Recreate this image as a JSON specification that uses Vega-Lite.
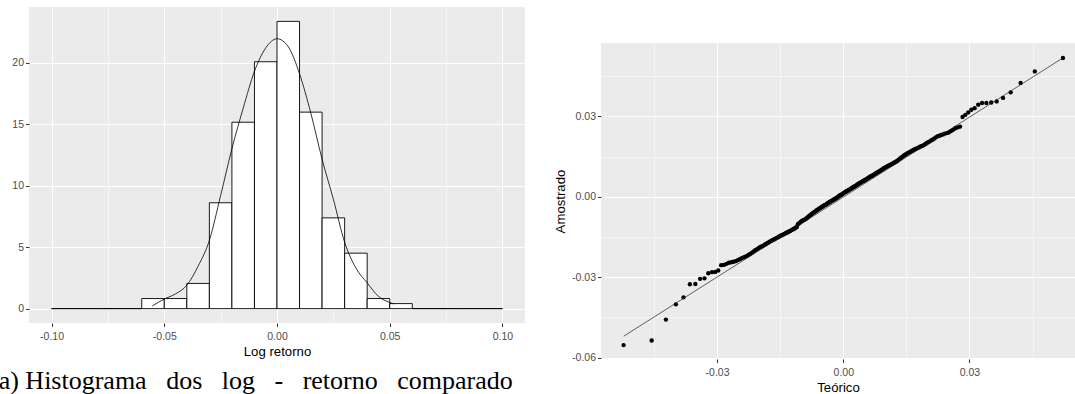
{
  "$schema": "https://vega.github.io/schema/vega-lite/v6.json",
  "autosize": {"type": "none"},
  "padding": {"left": 29, "top": 7, "right": 1046, "bottom": 387},
  "background": "white",
  "spacing": 76,
  "bounds": "flush",
  "config": {
    "view": {"fill": "#EBEBEB", "stroke": null},
    "axis": {
      "domain": false,
      "tickColor": "#333333",
      "tickSize": 3.5,
      "labelColor": "#4D4D4D",
      "labelFont": "Liberation Sans",
      "labelFontSize": 10.5,
      "labelPadding": 2.5,
      "labelOverlap": false,
      "labelFlush": false,
      "titleFont": "Liberation Sans",
      "titleFontSize": 13.2,
      "titleFontWeight": "normal",
      "titleColor": "#000000",
      "gridColor": "#FFFFFF"
    }
  },
  "hconcat": [
    {
      "width": 496,
      "height": 316,
      "title": {
        "text": "(a) Histograma\u2002 dos\u2002 log\u2002 -\u2002 retorno\u2002 comparado",
        "orient": "bottom",
        "anchor": "start",
        "frame": "group",
        "dx": -39,
        "offset": 11,
        "font": "Liberation Serif",
        "fontSize": 26,
        "fontWeight": "normal",
        "color": "#000000",
        "baseline": "top"
      },
      "layer": [
        {
          "data": {"values": [
            {"bin_start": -0.10, "bin_end": -0.09, "density": 0},
            {"bin_start": -0.09, "bin_end": -0.08, "density": 0},
            {"bin_start": -0.08, "bin_end": -0.07, "density": 0},
            {"bin_start": -0.07, "bin_end": -0.06, "density": 0},
            {"bin_start": -0.06, "bin_end": -0.05, "density": 0.82},
            {"bin_start": -0.05, "bin_end": -0.04, "density": 0.82},
            {"bin_start": -0.04, "bin_end": -0.03, "density": 2.05},
            {"bin_start": -0.03, "bin_end": -0.02, "density": 8.61},
            {"bin_start": -0.02, "bin_end": -0.01, "density": 15.16},
            {"bin_start": -0.01, "bin_end": 0.00, "density": 20.08},
            {"bin_start": 0.00, "bin_end": 0.01, "density": 23.36},
            {"bin_start": 0.01, "bin_end": 0.02, "density": 15.98},
            {"bin_start": 0.02, "bin_end": 0.03, "density": 7.38},
            {"bin_start": 0.03, "bin_end": 0.04, "density": 4.51},
            {"bin_start": 0.04, "bin_end": 0.05, "density": 0.82},
            {"bin_start": 0.05, "bin_end": 0.06, "density": 0.41},
            {"bin_start": 0.06, "bin_end": 0.07, "density": 0},
            {"bin_start": 0.07, "bin_end": 0.08, "density": 0},
            {"bin_start": 0.08, "bin_end": 0.09, "density": 0},
            {"bin_start": 0.09, "bin_end": 0.10, "density": 0}
          ]},
          "mark": {"type": "rect", "fill": "#FFFFFF", "stroke": "#000000", "strokeWidth": 0.9},
          "encoding": {
            "x": {
              "field": "bin_start", "type": "quantitative", "title": "Log retorno",
              "scale": {"domain": [-0.11, 0.11], "nice": false, "zero": false},
              "axis": {
                "values": [-0.1, -0.075, -0.05, -0.025, 0, 0.025, 0.05, 0.075, 0.1],
                "labelPadding": 5,
                "titlePadding": 3,
                "labelExpr": "abs(datum.value*20 - round(datum.value*20)) < 0.000001 ? replace(format(datum.value, '.2f'), '\u2212', '-') : ''",
                "tickOpacity": {"condition": {"test": "abs(datum.value*20 - round(datum.value*20)) < 0.000001", "value": 1}, "value": 0},
                "gridWidth": {"condition": {"test": "abs(datum.value*20 - round(datum.value*20)) < 0.000001", "value": 1.07}, "value": 0.53}
              }
            },
            "x2": {"field": "bin_end"},
            "y": {
              "field": "density", "type": "quantitative", "title": null,
              "scale": {"domain": [-1.168, 24.53], "nice": false, "zero": false},
              "axis": {
                "values": [0, 2.5, 5, 7.5, 10, 12.5, 15, 17.5, 20, 22.5],
                "labelPadding": 2,
                "labelExpr": "datum.value % 5 === 0 ? format(datum.value, 'd') : ''",
                "tickOpacity": {"condition": {"test": "datum.value % 5 === 0", "value": 1}, "value": 0},
                "gridWidth": {"condition": {"test": "datum.value % 5 === 0", "value": 1.07}, "value": 0.53}
              }
            },
            "y2": {"datum": 0}
          }
        },
        {
          "data": {"values": [
            {"x": -0.0553, "density": 0.22},
            {"x": -0.05, "density": 0.78},
            {"x": -0.045, "density": 1.2},
            {"x": -0.04, "density": 1.9},
            {"x": -0.035, "density": 3.45},
            {"x": -0.03, "density": 5.55},
            {"x": -0.025, "density": 9.2},
            {"x": -0.02, "density": 13.0},
            {"x": -0.015, "density": 16.3},
            {"x": -0.01, "density": 19.3},
            {"x": -0.005, "density": 21.2},
            {"x": 0.0, "density": 21.95},
            {"x": 0.005, "density": 21.3},
            {"x": 0.01, "density": 19.1},
            {"x": 0.015, "density": 15.9},
            {"x": 0.02, "density": 12.15},
            {"x": 0.025, "density": 8.9},
            {"x": 0.03, "density": 5.4},
            {"x": 0.035, "density": 3.3},
            {"x": 0.04, "density": 2.1},
            {"x": 0.045, "density": 1.0},
            {"x": 0.05, "density": 0.5},
            {"x": 0.0518, "density": 0.38}
          ]},
          "mark": {"type": "line", "color": "#000000", "strokeWidth": 0.8, "interpolate": "monotone"},
          "encoding": {
            "x": {"field": "x", "type": "quantitative", "title": "Log retorno"},
            "y": {"field": "density", "type": "quantitative", "title": null}
          }
        }
      ]
    },
    {
      "spacing": 0,
      "bounds": "flush",
      "vconcat": [
        {
          "width": 474,
          "height": 36,
          "view": {"fill": null, "stroke": null},
          "data": {"values": [{"s": 0}]},
          "mark": {"type": "point", "opacity": 0},
          "encoding": {}
        },
        {
          "width": 474,
          "height": 316,
          "layer": [
            {
              "data": {"values": [
{"teorico":-0.05223,"amostrado":-0.0553},{"teorico":-0.04555,"amostrado":-0.0536},{"teorico":-0.04217,"amostrado":-0.0458},{"teorico":-0.0398,"amostrado":-0.0401},{"teorico":-0.03798,"amostrado":-0.0375},{"teorico":-0.03647,"amostrado":-0.0326},{"teorico":-0.03518,"amostrado":-0.0325},{"teorico":-0.03403,"amostrado":-0.0306},{"teorico":-0.033,"amostrado":-0.0304},{"teorico":-0.03209,"amostrado":-0.0285},
{"teorico":-0.03123,"amostrado":-0.0281},{"teorico":-0.03045,"amostrado":-0.028},{"teorico":-0.02972,"amostrado":-0.0275},{"teorico":-0.02903,"amostrado":-0.0255},{"teorico":-0.02837,"amostrado":-0.0254},{"teorico":-0.02777,"amostrado":-0.025},{"teorico":-0.02719,"amostrado":-0.0246},{"teorico":-0.02663,"amostrado":-0.0244},{"teorico":-0.0261,"amostrado":-0.0242},{"teorico":-0.02557,"amostrado":-0.024},
{"teorico":-0.02508,"amostrado":-0.0236},{"teorico":-0.02461,"amostrado":-0.0233},{"teorico":-0.02415,"amostrado":-0.0229},{"teorico":-0.02371,"amostrado":-0.0226},{"teorico":-0.0233,"amostrado":-0.0223},{"teorico":-0.02288,"amostrado":-0.022},{"teorico":-0.02248,"amostrado":-0.0216},{"teorico":-0.02208,"amostrado":-0.0213},{"teorico":-0.02169,"amostrado":-0.0208},{"teorico":-0.02131,"amostrado":-0.0204},
{"teorico":-0.02093,"amostrado":-0.0199},{"teorico":-0.02058,"amostrado":-0.0196},{"teorico":-0.02022,"amostrado":-0.0192},{"teorico":-0.01989,"amostrado":-0.0189},{"teorico":-0.01955,"amostrado":-0.0186},{"teorico":-0.01922,"amostrado":-0.0184},{"teorico":-0.01889,"amostrado":-0.0181},{"teorico":-0.01858,"amostrado":-0.0178},{"teorico":-0.01827,"amostrado":-0.0175},{"teorico":-0.01796,"amostrado":-0.0172},
{"teorico":-0.01765,"amostrado":-0.0169},{"teorico":-0.01736,"amostrado":-0.0166},{"teorico":-0.01707,"amostrado":-0.0164},{"teorico":-0.01678,"amostrado":-0.0161},{"teorico":-0.01649,"amostrado":-0.0159},{"teorico":-0.01622,"amostrado":-0.0157},{"teorico":-0.01593,"amostrado":-0.0154},{"teorico":-0.01565,"amostrado":-0.0152},{"teorico":-0.0154,"amostrado":-0.015},{"teorico":-0.01512,"amostrado":-0.0147},
{"teorico":-0.01487,"amostrado":-0.0145},{"teorico":-0.0146,"amostrado":-0.0143},{"teorico":-0.01434,"amostrado":-0.0141},{"teorico":-0.01409,"amostrado":-0.0139},{"teorico":-0.01385,"amostrado":-0.0137},{"teorico":-0.0136,"amostrado":-0.0135},{"teorico":-0.01336,"amostrado":-0.0133},{"teorico":-0.0131,"amostrado":-0.0131},{"teorico":-0.01287,"amostrado":-0.0129},{"teorico":-0.01263,"amostrado":-0.0127},
{"teorico":-0.01239,"amostrado":-0.0125},{"teorico":-0.01216,"amostrado":-0.0123},{"teorico":-0.01194,"amostrado":-0.0121},{"teorico":-0.0117,"amostrado":-0.0119},{"teorico":-0.01147,"amostrado":-0.0117},{"teorico":-0.01125,"amostrado":-0.0114},{"teorico":-0.01101,"amostrado":-0.0112},{"teorico":-0.01079,"amostrado":-0.0102},{"teorico":-0.01057,"amostrado":-0.0099},{"teorico":-0.01036,"amostrado":-0.0097},
{"teorico":-0.01014,"amostrado":-0.0094},{"teorico":-0.00992,"amostrado":-0.0091},{"teorico":-0.0097,"amostrado":-0.0089},{"teorico":-0.00948,"amostrado":-0.0087},{"teorico":-0.00926,"amostrado":-0.0085},{"teorico":-0.00905,"amostrado":-0.0084},{"teorico":-0.00885,"amostrado":-0.0082},{"teorico":-0.00863,"amostrado":-0.0079},{"teorico":-0.00843,"amostrado":-0.0076},{"teorico":-0.00821,"amostrado":-0.0073},
{"teorico":-0.00801,"amostrado":-0.007},{"teorico":-0.00781,"amostrado":-0.0068},{"teorico":-0.00759,"amostrado":-0.0065},{"teorico":-0.00739,"amostrado":-0.0063},{"teorico":-0.00719,"amostrado":-0.006},{"teorico":-0.00699,"amostrado":-0.0058},{"teorico":-0.00679,"amostrado":-0.0056},{"teorico":-0.00659,"amostrado":-0.0054},{"teorico":-0.00639,"amostrado":-0.0051},{"teorico":-0.00619,"amostrado":-0.0049},
{"teorico":-0.00599,"amostrado":-0.0047},{"teorico":-0.00581,"amostrado":-0.0045},{"teorico":-0.00561,"amostrado":-0.0043},{"teorico":-0.00541,"amostrado":-0.0041},{"teorico":-0.00522,"amostrado":-0.0039},{"teorico":-0.00502,"amostrado":-0.0037},{"teorico":-0.00482,"amostrado":-0.0035},{"teorico":-0.00464,"amostrado":-0.0033},{"teorico":-0.00444,"amostrado":-0.0031},{"teorico":-0.00426,"amostrado":-0.003},
{"teorico":-0.00406,"amostrado":-0.0028},{"teorico":-0.00388,"amostrado":-0.0026},{"teorico":-0.00368,"amostrado":-0.0024},{"teorico":-0.00349,"amostrado":-0.0022},{"teorico":-0.00329,"amostrado":-0.002},{"teorico":-0.00311,"amostrado":-0.0018},{"teorico":-0.00293,"amostrado":-0.0016},{"teorico":-0.00273,"amostrado":-0.0015},{"teorico":-0.00255,"amostrado":-0.0013},{"teorico":-0.00237,"amostrado":-0.0011},
{"teorico":-0.00217,"amostrado":-0.001},{"teorico":-0.00198,"amostrado":-0.0008},{"teorico":-0.0018,"amostrado":-0.0006},{"teorico":-0.0016,"amostrado":-0.0004},{"teorico":-0.00142,"amostrado":-0.0002},{"teorico":-0.00124,"amostrado":0.0},{"teorico":-0.00104,"amostrado":0.0003},{"teorico":-0.00084,"amostrado":0.0005},{"teorico":-0.00066,"amostrado":0.0006},{"teorico":-0.00047,"amostrado":0.0008},
{"teorico":-0.00027,"amostrado":0.001},{"teorico":-0.00009,"amostrado":0.0012},{"teorico":0.00009,"amostrado":0.0014},{"teorico":0.00027,"amostrado":0.0016},{"teorico":0.00047,"amostrado":0.0018},{"teorico":0.00066,"amostrado":0.002},{"teorico":0.00084,"amostrado":0.0021},{"teorico":0.00104,"amostrado":0.0023},{"teorico":0.00124,"amostrado":0.0025},{"teorico":0.00142,"amostrado":0.0027},
{"teorico":0.0016,"amostrado":0.0028},{"teorico":0.0018,"amostrado":0.003},{"teorico":0.00198,"amostrado":0.0032},{"teorico":0.00217,"amostrado":0.0034},{"teorico":0.00237,"amostrado":0.0036},{"teorico":0.00255,"amostrado":0.0038},{"teorico":0.00273,"amostrado":0.0039},{"teorico":0.00293,"amostrado":0.0041},{"teorico":0.00311,"amostrado":0.0043},{"teorico":0.00329,"amostrado":0.0045},
{"teorico":0.00349,"amostrado":0.0047},{"teorico":0.00368,"amostrado":0.0049},{"teorico":0.00388,"amostrado":0.0051},{"teorico":0.00406,"amostrado":0.0053},{"teorico":0.00426,"amostrado":0.0054},{"teorico":0.00444,"amostrado":0.0056},{"teorico":0.00464,"amostrado":0.0058},{"teorico":0.00482,"amostrado":0.006},{"teorico":0.00502,"amostrado":0.0061},{"teorico":0.00522,"amostrado":0.0063},
{"teorico":0.00541,"amostrado":0.0065},{"teorico":0.00561,"amostrado":0.0067},{"teorico":0.00581,"amostrado":0.0069},{"teorico":0.00599,"amostrado":0.0071},{"teorico":0.00619,"amostrado":0.0073},{"teorico":0.00639,"amostrado":0.0075},{"teorico":0.00659,"amostrado":0.0077},{"teorico":0.00679,"amostrado":0.0078},{"teorico":0.00699,"amostrado":0.008},{"teorico":0.00719,"amostrado":0.0082},
{"teorico":0.00739,"amostrado":0.0084},{"teorico":0.00759,"amostrado":0.0086},{"teorico":0.00781,"amostrado":0.0088},{"teorico":0.00801,"amostrado":0.009},{"teorico":0.00821,"amostrado":0.0092},{"teorico":0.00843,"amostrado":0.0094},{"teorico":0.00863,"amostrado":0.0096},{"teorico":0.00885,"amostrado":0.0098},{"teorico":0.00905,"amostrado":0.01},{"teorico":0.00926,"amostrado":0.0102},
{"teorico":0.00948,"amostrado":0.0105},{"teorico":0.0097,"amostrado":0.0107},{"teorico":0.00992,"amostrado":0.0109},{"teorico":0.01014,"amostrado":0.0111},{"teorico":0.01036,"amostrado":0.0113},{"teorico":0.01057,"amostrado":0.0115},{"teorico":0.01079,"amostrado":0.0116},{"teorico":0.01101,"amostrado":0.0118},{"teorico":0.01125,"amostrado":0.012},{"teorico":0.01147,"amostrado":0.0122},
{"teorico":0.0117,"amostrado":0.0124},{"teorico":0.01194,"amostrado":0.0126},{"teorico":0.01216,"amostrado":0.0128},{"teorico":0.01239,"amostrado":0.013},{"teorico":0.01263,"amostrado":0.0132},{"teorico":0.01287,"amostrado":0.0134},{"teorico":0.0131,"amostrado":0.0138},{"teorico":0.01336,"amostrado":0.0141},{"teorico":0.0136,"amostrado":0.0144},{"teorico":0.01385,"amostrado":0.0147},
{"teorico":0.01409,"amostrado":0.015},{"teorico":0.01434,"amostrado":0.0153},{"teorico":0.0146,"amostrado":0.0156},{"teorico":0.01487,"amostrado":0.0158},{"teorico":0.01512,"amostrado":0.0161},{"teorico":0.0154,"amostrado":0.0164},{"teorico":0.01565,"amostrado":0.0166},{"teorico":0.01593,"amostrado":0.0168},{"teorico":0.01622,"amostrado":0.0171},{"teorico":0.01649,"amostrado":0.0173},
{"teorico":0.01678,"amostrado":0.0176},{"teorico":0.01707,"amostrado":0.0178},{"teorico":0.01736,"amostrado":0.018},{"teorico":0.01765,"amostrado":0.0182},{"teorico":0.01796,"amostrado":0.0184},{"teorico":0.01827,"amostrado":0.0187},{"teorico":0.01858,"amostrado":0.0189},{"teorico":0.01889,"amostrado":0.0191},{"teorico":0.01922,"amostrado":0.0194},{"teorico":0.01955,"amostrado":0.0197},
{"teorico":0.01989,"amostrado":0.0201},{"teorico":0.02022,"amostrado":0.0204},{"teorico":0.02058,"amostrado":0.0207},{"teorico":0.02093,"amostrado":0.0211},{"teorico":0.02131,"amostrado":0.0214},{"teorico":0.02169,"amostrado":0.0218},{"teorico":0.02208,"amostrado":0.0223},{"teorico":0.02248,"amostrado":0.0226},{"teorico":0.02288,"amostrado":0.0228},{"teorico":0.0233,"amostrado":0.0231},
{"teorico":0.02371,"amostrado":0.0233},{"teorico":0.02415,"amostrado":0.0236},{"teorico":0.02461,"amostrado":0.0238},{"teorico":0.02508,"amostrado":0.024},{"teorico":0.02557,"amostrado":0.0245},{"teorico":0.0261,"amostrado":0.025},{"teorico":0.02663,"amostrado":0.0256},{"teorico":0.02719,"amostrado":0.0259},{"teorico":0.02777,"amostrado":0.0262},{"teorico":0.02837,"amostrado":0.0298},
{"teorico":0.02903,"amostrado":0.0306},{"teorico":0.02972,"amostrado":0.0315},{"teorico":0.03045,"amostrado":0.0325},{"teorico":0.03123,"amostrado":0.0331},{"teorico":0.03209,"amostrado":0.0344},{"teorico":0.033,"amostrado":0.035},{"teorico":0.03403,"amostrado":0.035},{"teorico":0.03518,"amostrado":0.0352},{"teorico":0.03647,"amostrado":0.0356},{"teorico":0.03798,"amostrado":0.0369},
{"teorico":0.0398,"amostrado":0.039},{"teorico":0.04217,"amostrado":0.0425},{"teorico":0.04555,"amostrado":0.0468},{"teorico":0.05223,"amostrado":0.0518}
              ]},
              "mark": {"type": "circle", "color": "#000000", "size": 19, "opacity": 1},
              "encoding": {
                "x": {
                  "field": "teorico", "type": "quantitative", "title": "Teórico",
                  "scale": {"domain": [-0.0576, 0.0551], "nice": false, "zero": false},
                  "axis": {
                    "values": [-0.045, -0.03, -0.015, 0, 0.015, 0.03, 0.045],
                    "labelPadding": 5,
                    "titlePadding": 3,
                    "labelExpr": "abs(datum.value/0.03 - round(datum.value/0.03)) < 0.000001 ? replace(format(datum.value, '.2f'), '\u2212', '-') : ''",
                    "tickOpacity": {"condition": {"test": "abs(datum.value/0.03 - round(datum.value/0.03)) < 0.000001", "value": 1}, "value": 0},
                    "gridWidth": {"condition": {"test": "abs(datum.value/0.03 - round(datum.value/0.03)) < 0.000001", "value": 1.07}, "value": 0.53}
                  }
                },
                "y": {
                  "field": "amostrado", "type": "quantitative", "title": "Amostrado",
                  "scale": {"domain": [-0.0605, 0.0574], "nice": false, "zero": false},
                  "axis": {
                    "values": [-0.06, -0.045, -0.03, -0.015, 0, 0.015, 0.03, 0.045],
                    "titlePadding": 4,
                    "labelPadding": 2,
                    "labelExpr": "abs(datum.value/0.03 - round(datum.value/0.03)) < 0.000001 ? replace(format(datum.value, '.2f'), '\u2212', '-') : ''",
                    "tickOpacity": {"condition": {"test": "abs(datum.value/0.03 - round(datum.value/0.03)) < 0.000001", "value": 1}, "value": 0},
                    "gridWidth": {"condition": {"test": "abs(datum.value/0.03 - round(datum.value/0.03)) < 0.000001", "value": 1.07}, "value": 0.53}
                  }
                }
              }
            },
            {
              "data": {"values": [
                {"teorico": -0.0522, "amostrado": -0.052},
                {"teorico": 0.0522, "amostrado": 0.0518}
              ]},
              "mark": {"type": "line", "color": "#222222", "strokeWidth": 0.7},
              "encoding": {
                "x": {"field": "teorico", "type": "quantitative", "title": "Teórico"},
                "y": {"field": "amostrado", "type": "quantitative", "title": "Amostrado"}
              }
            }
          ]
        }
      ]
    }
  ]
}
